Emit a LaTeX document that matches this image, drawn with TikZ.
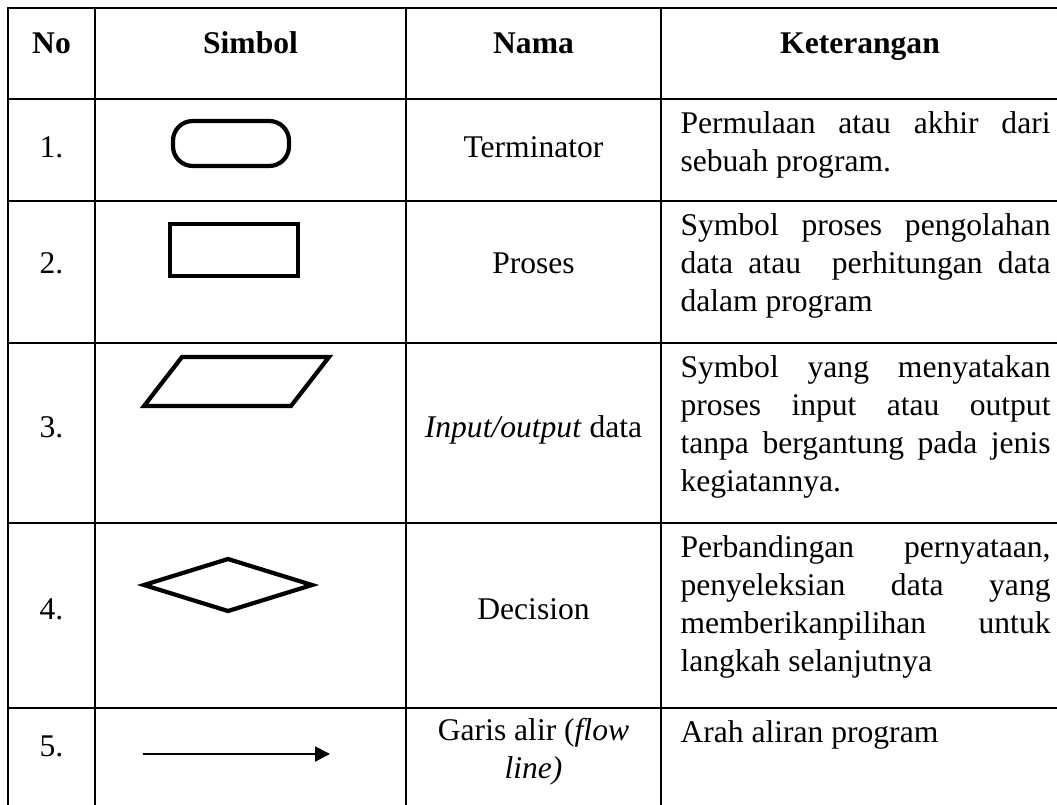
\documentclass[tikz,border=0pt]{standalone}
\usepackage{fontspec}
\setmainfont{Liberation Serif}
\usetikzlibrary{arrows.meta}
\tolerance=10000
\hbadness=10000

\begin{document}
\begin{tikzpicture}[x=0.38pt,y=-0.38pt,
   font=\fontsize{12}{14.4}\selectfont,
   rule/.style={line width=0.9pt,line cap=rect},
   sym/.style={line width=1.6pt,line join=miter},
   cell/.style={anchor=base,inner sep=0pt},
   desc/.style={anchor=north west,inner sep=0pt,text width=140.6pt,align=justify}]
   \useasboundingbox (0,0) rectangle (1057,804);
   % garis tabel
   \foreach \y in {8,99,201,343,523,708}
      \draw [rule] (8,\y) -- (1062,\y);
   \foreach \x in {8,95,406,661}
      \draw [rule] (\x,8) -- (\x,810);
   % judul
   \node [cell] (hno) at (51.5,54) {\textbf{No}};
   \node [cell] (hsim) at (250.5,54) {\textbf{Simbol}};
   \node [cell] (hnama) at (533.5,54) {\textbf{Nama}};
   \node [cell] (hket) at (860,54) {\textbf{Keterangan}};
   % nomor
   \node [cell] (no1) at (51.5,158) {1.};
   \node [cell] (no2) at (51.5,273) {2.};
   \node [cell] (no3) at (51.5,437) {3.};
   \node [cell] (no4) at (51.5,619) {4.};
   \node [cell] (no5) at (51.5,756) {5.};
   % simbol
   \draw [sym,rounded corners=7.5pt] (173,121) rectangle (289,166);
   \draw [sym] (170,224) rectangle (298,276);
   \draw [sym] (182,357) -- (329,357) -- (291,406) -- (144,406) -- cycle;
   \draw [sym] (144,585) -- (228,559) -- (312,585) -- (228,611) -- cycle;
   \coordinate (fa) at (143,754);
   \coordinate (fb) at (330,754);
   \draw [line width=0.8pt,-{Triangle[length=5.7pt,width=5.7pt]}] (fa) -- (fb);
   % nama
   \node [cell] (nm1) at (533.5,158) {Terminator};
   \node [cell] (nm2) at (533.5,273) {Proses};
   \node [cell] (nm3) at (533.5,437) {\textit{Input/output} data};
   \node [cell] (nm4) at (533.5,619) {Decision};
   \node [cell] (nm5a) at (533.5,740) {Garis alir (\textit{flow}};
   \node [cell] (nm5b) at (533.5,778) {\textit{line)}};
   % keterangan
   \node [desc] (ket1) at (680,106.5) {\strut Permulaan atau akhir dari\linebreak
      sebuah program.};
   \node [desc] (ket2) at (680,208.5) {\strut Symbol proses pengolahan\linebreak
      data atau\ \ perhitungan data\linebreak dalam program};
   \node [desc] (ket3) at (680,350.5) {\strut Symbol yang menyatakan\linebreak
      proses input atau output\linebreak tanpa bergantung pada jenis\linebreak
      kegiatannya.};
   \node [desc] (ket4) at (680,530.5) {\strut Perbandingan pernyataan,\linebreak
      penyeleksian data yang\linebreak memberikanpilihan untuk\linebreak
      langkah selanjutnya};
   \node [cell,anchor=base west] (ket5) at (680,742) {Arah aliran program};
\end{tikzpicture}
\end{document}
